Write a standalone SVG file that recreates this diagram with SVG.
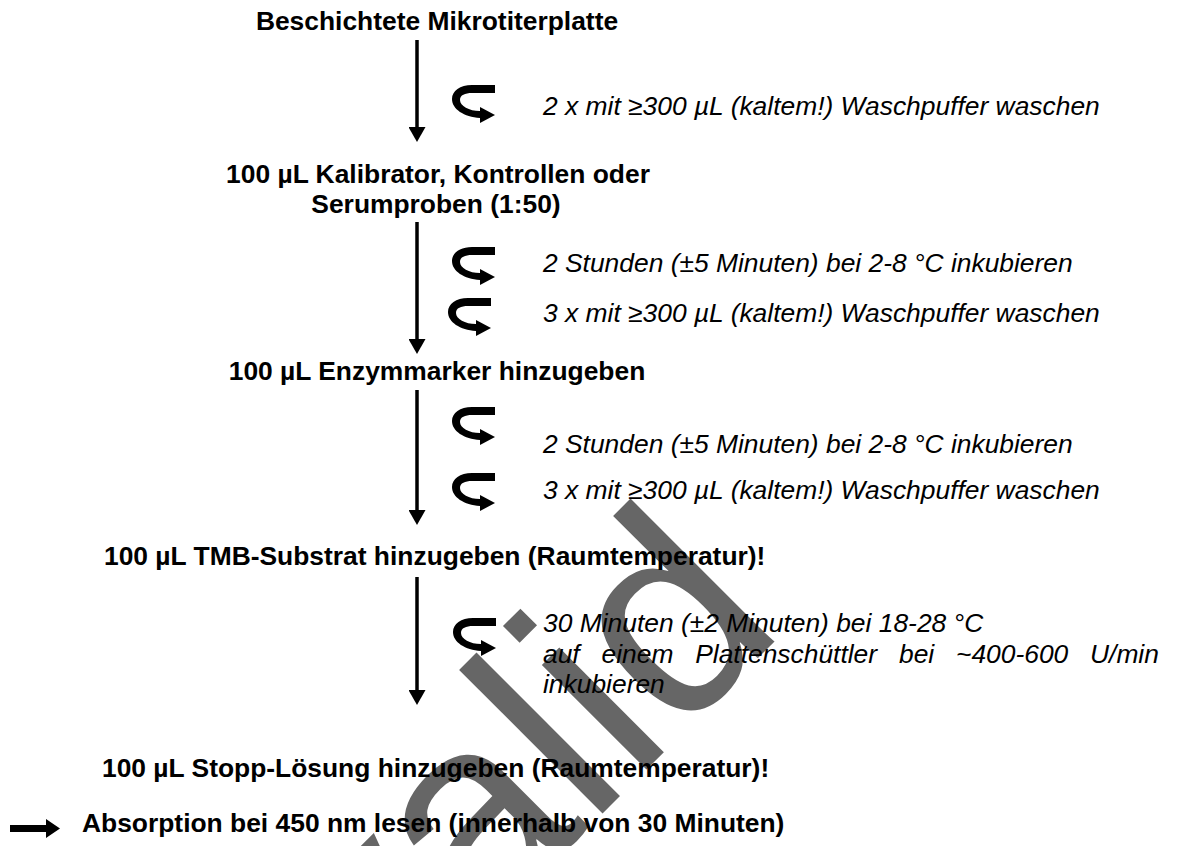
<svg xmlns="http://www.w3.org/2000/svg" width="1182" height="846" viewBox="0 0 1182 846">
<style>
.b{font-family:"Liberation Sans",Arial,sans-serif;font-weight:bold;font-size:26.4px;fill:#000}
.i{font-family:"Liberation Sans",Arial,sans-serif;font-style:italic;font-size:26.4px;fill:#000}
.c{text-anchor:middle}
.ln{stroke:#000;stroke-width:3.5;fill:none;marker-end:url(#ah)}
.wm{font-family:"Liberation Sans",Arial,sans-serif;font-size:280px;fill:#666}
</style>
<defs>
<marker id="ah" markerUnits="userSpaceOnUse" markerWidth="16" markerHeight="17" refX="7" refY="8.5" orient="auto">
<path d="M0,0 L15,8.5 L0,17 Z" fill="#000"/>
</marker>
<path id="curl" d="M43,0 L20,0 C8,0 0,6 0,14 C0,24 12,32 28,33 L28,38 L43,30 L28,22 L28,26 C17,26 8,21 8,15 C8,10 13,8 20,8 L43,8 Z" fill="#000"/>
</defs>
<rect width="1182" height="846" fill="#fff"/>
<g id="watermark">
<text class="wm" transform="translate(215,1201) rotate(-45)">Invalid</text>
</g>
<g id="connectors">
<line class="ln" x1="417" y1="40" x2="417" y2="134"/>
<line class="ln" x1="417" y1="222" x2="417" y2="346"/>
<line class="ln" x1="417" y1="390" x2="417" y2="517"/>
<line class="ln" x1="417" y1="577" x2="417" y2="697"/>
<use href="#curl" x="452" y="85"/>
<use href="#curl" x="452" y="247"/>
<use href="#curl" x="448" y="298"/>
<use href="#curl" x="452" y="407"/>
<use href="#curl" x="452" y="473"/>
<use href="#curl" x="453" y="618"/>
<path d="M10,825 L46,825 L46,819 L60,828.5 L46,838 L46,832 L10,832 Z" fill="#000"/>
</g>
<g id="n1"><text class="b c" x="437" y="30">Beschichtete Mikrotiterplatte</text></g>
<g id="s1"><text class="i" x="543" y="115">2 x mit ≥300 µL (kaltem!) Waschpuffer waschen</text></g>
<g id="n2"><text class="b c" x="438" y="183">100 µL Kalibrator, Kontrollen oder</text><text class="b c" x="436" y="213">Serumproben (1:50)</text></g>
<g id="s2"><text class="i" x="543" y="272">2 Stunden (±5 Minuten) bei 2-8 °C inkubieren</text><text class="i" x="543" y="322">3 x mit ≥300 µL (kaltem!) Waschpuffer waschen</text></g>
<g id="n3"><text class="b c" x="437" y="380">100 µL Enzymmarker hinzugeben</text></g>
<g id="s3"><text class="i" x="543" y="453">2 Stunden (±5 Minuten) bei 2-8 °C inkubieren</text><text class="i" x="543" y="499">3 x mit ≥300 µL (kaltem!) Waschpuffer waschen</text></g>
<g id="n4"><text class="b" x="104" y="565">100 µL TMB-Substrat hinzugeben (Raumtemperatur)!</text></g>
<g id="s4"><text class="i" x="543" y="632">30 Minuten (±2 Minuten) bei 18-28 °C</text>
<text class="i" y="663"><tspan x="543">auf</tspan><tspan x="601.5">einem</tspan><tspan x="695.2">Plattenschüttler</tspan><tspan x="899">bei</tspan><tspan x="956">~400-600</tspan><tspan x="1090">U/min</tspan></text>
<text class="i" x="543" y="693">inkubieren</text></g>
<g id="n5"><text class="b" x="102" y="777">100 µL Stopp-Lösung hinzugeben (Raumtemperatur)!</text></g>
<g id="n6"><text class="b" x="82" y="832">Absorption bei 450 nm lesen (innerhalb von 30 Minuten)</text></g>
</svg>
